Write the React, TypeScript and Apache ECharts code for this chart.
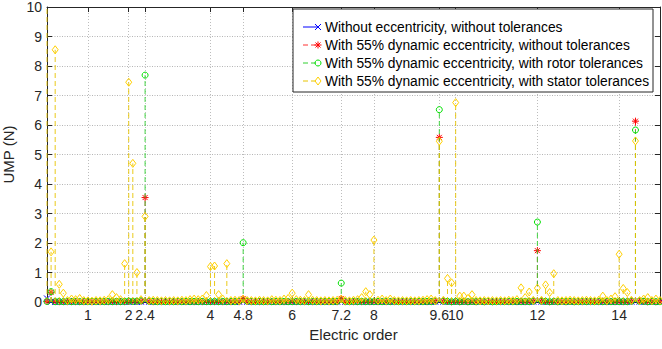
import React, { useEffect, useRef } from "react";
import * as echarts from "echarts";

const ORDERS = [
  0, 0.1, 0.2, 0.3, 0.4, 0.5, 0.6, 0.7, 0.8, 0.9,
  1, 1.1, 1.2, 1.3, 1.4, 1.5, 1.6, 1.7, 1.8, 1.9,
  2, 2.1, 2.2, 2.3, 2.4, 2.5, 2.6, 2.7, 2.8, 2.9,
  3, 3.1, 3.2, 3.3, 3.4, 3.5, 3.6, 3.7, 3.8, 3.9,
  4, 4.1, 4.2, 4.3, 4.4, 4.5, 4.6, 4.7, 4.8, 4.9,
  5, 5.1, 5.2, 5.3, 5.4, 5.5, 5.6, 5.7, 5.8, 5.9,
  6, 6.1, 6.2, 6.3, 6.4, 6.5, 6.6, 6.7, 6.8, 6.9,
  7, 7.1, 7.2, 7.3, 7.4, 7.5, 7.6, 7.7, 7.8, 7.9,
  8, 8.1, 8.2, 8.3, 8.4, 8.5, 8.6, 8.7, 8.8, 8.9,
  9, 9.1, 9.2, 9.3, 9.4, 9.5, 9.6, 9.7, 9.8, 9.9,
  10, 10.1, 10.2, 10.3, 10.4, 10.5, 10.6, 10.7, 10.8, 10.9,
  11, 11.1, 11.2, 11.3, 11.4, 11.5, 11.6, 11.7, 11.8, 11.9,
  12, 12.1, 12.2, 12.3, 12.4, 12.5, 12.6, 12.7, 12.8, 12.9,
  13, 13.1, 13.2, 13.3, 13.4, 13.5, 13.6, 13.7, 13.8, 13.9,
  14, 14.1, 14.2, 14.3, 14.4, 14.5, 14.6, 14.7, 14.8, 14.9,
  15,
];

const BLUE_NO_ECC = [
  0.12, 0.01, 0.0, 0.01, 0.0, 0.01, 0.0, 0.01, 0.0, 0.01,
  0.0, 0.01, 0.0, 0.01, 0.0, 0.01, 0.0, 0.01, 0.0, 0.01,
  0.0, 0.01, 0.0, 0.01, 0.02, 0.01, 0.0, 0.01, 0.0, 0.01,
  0.0, 0.01, 0.0, 0.01, 0.0, 0.01, 0.0, 0.01, 0.0, 0.01,
  0.0, 0.01, 0.0, 0.01, 0.0, 0.01, 0.0, 0.01, 0.02, 0.01,
  0.0, 0.01, 0.0, 0.01, 0.0, 0.01, 0.0, 0.01, 0.0, 0.01,
  0.0, 0.01, 0.0, 0.01, 0.0, 0.01, 0.0, 0.01, 0.0, 0.01,
  0.0, 0.01, 0.02, 0.01, 0.0, 0.01, 0.0, 0.01, 0.0, 0.01,
  0.0, 0.01, 0.0, 0.01, 0.0, 0.01, 0.0, 0.01, 0.0, 0.01,
  0.0, 0.01, 0.0, 0.01, 0.0, 0.01, 0.02, 0.01, 0.0, 0.01,
  0.0, 0.01, 0.0, 0.01, 0.0, 0.01, 0.0, 0.01, 0.0, 0.01,
  0.0, 0.01, 0.0, 0.01, 0.0, 0.01, 0.0, 0.01, 0.0, 0.01,
  0.02, 0.01, 0.0, 0.01, 0.0, 0.01, 0.0, 0.01, 0.0, 0.01,
  0.0, 0.01, 0.0, 0.01, 0.0, 0.01, 0.0, 0.01, 0.0, 0.01,
  0.0, 0.01, 0.0, 0.01, 0.02, 0.01, 0.0, 0.01, 0.0, 0.01,
  0.0,
];

const RED_DYN_ECC = [
  0.02, 0.33, 0.02, 0.01, 0.02, 0.01, 0.02, 0.01, 0.02, 0.01,
  0.02, 0.01, 0.02, 0.01, 0.02, 0.01, 0.02, 0.01, 0.02, 0.01,
  0.02, 0.03, 0.02, 0.03, 3.54, 0.02, 0.01, 0.02, 0.01, 0.02,
  0.01, 0.02, 0.01, 0.02, 0.01, 0.02, 0.01, 0.02, 0.01, 0.02,
  0.02, 0.01, 0.02, 0.01, 0.02, 0.01, 0.02, 0.01, 0.12, 0.02,
  0.01, 0.02, 0.01, 0.02, 0.01, 0.02, 0.01, 0.02, 0.01, 0.02,
  0.02, 0.01, 0.02, 0.01, 0.02, 0.01, 0.02, 0.01, 0.02, 0.01,
  0.02, 0.01, 0.12, 0.01, 0.02, 0.01, 0.02, 0.01, 0.02, 0.01,
  0.02, 0.01, 0.02, 0.01, 0.02, 0.01, 0.02, 0.01, 0.02, 0.01,
  0.02, 0.01, 0.02, 0.01, 0.02, 0.03, 5.58, 0.03, 0.02, 0.01,
  0.02, 0.01, 0.02, 0.01, 0.02, 0.01, 0.02, 0.01, 0.02, 0.01,
  0.02, 0.01, 0.02, 0.01, 0.02, 0.01, 0.02, 0.01, 0.02, 0.03,
  1.74, 0.03, 0.02, 0.01, 0.02, 0.01, 0.02, 0.01, 0.02, 0.01,
  0.02, 0.01, 0.02, 0.01, 0.02, 0.01, 0.02, 0.01, 0.02, 0.01,
  0.02, 0.01, 0.02, 0.03, 6.13, 0.03, 0.02, 0.01, 0.02, 0.01,
  0.02,
];

const GREEN_ROTOR_TOL = [
  0.02, 0.35, 0.01, 0.02, 0.01, 0.02, 0.01, 0.02, 0.01, 0.02,
  0.01, 0.02, 0.01, 0.02, 0.01, 0.02, 0.01, 0.02, 0.01, 0.02,
  0.03, 0.02, 0.03, 0.04, 7.69, 0.03, 0.02, 0.01, 0.02, 0.01,
  0.02, 0.01, 0.02, 0.01, 0.02, 0.01, 0.02, 0.01, 0.02, 0.01,
  0.01, 0.02, 0.01, 0.02, 0.01, 0.02, 0.01, 0.03, 2.01, 0.03,
  0.02, 0.01, 0.02, 0.01, 0.02, 0.01, 0.02, 0.01, 0.02, 0.01,
  0.01, 0.02, 0.01, 0.02, 0.01, 0.02, 0.01, 0.02, 0.01, 0.02,
  0.01, 0.02, 0.64, 0.02, 0.01, 0.02, 0.01, 0.02, 0.01, 0.02,
  0.01, 0.02, 0.01, 0.02, 0.01, 0.02, 0.01, 0.02, 0.01, 0.02,
  0.01, 0.02, 0.01, 0.02, 0.01, 0.03, 6.52, 0.03, 0.02, 0.01,
  0.02, 0.01, 0.02, 0.01, 0.02, 0.01, 0.02, 0.01, 0.02, 0.01,
  0.01, 0.02, 0.01, 0.02, 0.01, 0.02, 0.01, 0.02, 0.01, 0.03,
  2.71, 0.03, 0.02, 0.01, 0.02, 0.01, 0.02, 0.01, 0.02, 0.01,
  0.01, 0.02, 0.01, 0.02, 0.01, 0.02, 0.01, 0.02, 0.01, 0.02,
  0.01, 0.02, 0.01, 0.03, 5.83, 0.03, 0.02, 0.01, 0.02, 0.01,
  0.01,
];

const YELLOW_STATOR_TOL = [
  10.5, 1.7, 8.55, 0.6, 0.3, 0.05, 0.1, 0.08, 0.12, 0.05,
  0.04, 0.03, 0.05, 0.04, 0.06, 0.08, 0.25, 0.15, 0.08, 1.3,
  7.45, 4.7, 1.0, 0.08, 2.9, 0.05, 0.06, 0.05, 0.04, 0.05,
  0.04, 0.05, 0.04, 0.06, 0.05, 0.08, 0.1, 0.08, 0.1, 0.22,
  1.2, 1.22, 0.25, 0.1, 1.3, 0.05, 0.06, 0.05, 0.1, 0.05,
  0.05, 0.04, 0.06, 0.05, 0.04, 0.08, 0.06, 0.05, 0.1, 0.12,
  0.3, 0.08, 0.06, 0.05, 0.25, 0.06, 0.05, 0.04, 0.05, 0.04,
  0.05, 0.06, 0.1, 0.05, 0.04, 0.06, 0.08, 0.15, 0.35, 0.25,
  2.1, 0.06, 0.1, 0.05, 0.1, 0.05, 0.04, 0.05, 0.04, 0.05,
  0.04, 0.05, 0.06, 0.08, 0.1, 0.05, 5.45, 0.06, 0.8, 0.65,
  6.76, 0.2, 0.2, 0.12, 0.25, 0.05, 0.04, 0.05, 0.04, 0.05,
  0.04, 0.05, 0.04, 0.06, 0.05, 0.08, 0.48, 0.15, 0.34, 0.06,
  0.47, 0.06, 0.58, 0.32, 0.96, 0.05, 0.04, 0.05, 0.06, 0.05,
  0.04, 0.05, 0.06, 0.05, 0.04, 0.06, 0.2, 0.05, 0.1, 0.18,
  1.62, 0.46, 0.32, 0.06, 5.46, 0.05, 0.1, 0.15, 0.05, 0.1,
  0.05,
];

const X_TICKS = [1, 2, 2.4, 4, 4.8, 6, 7.2, 8, 9.6, 10, 12, 14];
const X_MIN = 0;
const X_MAX = 15;
const Y_MIN = 0;
const Y_MAX = 10;

const LEGEND_LABELS = [
  "Without eccentricity, without tolerances",
  "With 55% dynamic eccentricity, without tolerances",
  "With 55% dynamic eccentricity, with rotor tolerances",
  "With 55% dynamic eccentricity, with stator tolerances",
];

const FONT = "'Liberation Sans', Arial, Helvetica, sans-serif";
const AXIS_COLOR = "#262626";

type MarkerKind = "x" | "star" | "circle" | "diamond";

function markerShapes(kind: MarkerKind, cx: number, cy: number, color: string): any[] {
  const lw = 1;
  if (kind === "x") {
    const r = 3;
    return [
      { type: "line", shape: { x1: cx - r, y1: cy - r, x2: cx + r, y2: cy + r }, style: { stroke: color, lineWidth: lw } },
      { type: "line", shape: { x1: cx - r, y1: cy + r, x2: cx + r, y2: cy - r }, style: { stroke: color, lineWidth: lw } },
    ];
  }
  if (kind === "star") {
    const r = 3.5;
    const d = 2.5;
    return [
      { type: "line", shape: { x1: cx, y1: cy - r, x2: cx, y2: cy + r }, style: { stroke: color, lineWidth: lw } },
      { type: "line", shape: { x1: cx - r, y1: cy, x2: cx + r, y2: cy }, style: { stroke: color, lineWidth: lw } },
      { type: "line", shape: { x1: cx - d, y1: cy - d, x2: cx + d, y2: cy + d }, style: { stroke: color, lineWidth: lw } },
      { type: "line", shape: { x1: cx - d, y1: cy + d, x2: cx + d, y2: cy - d }, style: { stroke: color, lineWidth: lw } },
    ];
  }
  if (kind === "circle") {
    return [{ type: "circle", shape: { cx, cy, r: 3 }, style: { fill: "none", stroke: color, lineWidth: lw } }];
  }
  return [
    {
      type: "polygon",
      shape: { points: [[cx, cy - 4], [cx + 3, cy], [cx, cy + 4], [cx - 3, cy]] },
      style: { fill: "none", stroke: color, lineWidth: lw },
    },
  ];
}

interface StemDef {
  name: string;
  values: number[];
  color: string;
  stemColor: string;
  dash: number[] | null;
  marker: MarkerKind;
}

const STEMS: StemDef[] = [
  { name: LEGEND_LABELS[0], values: BLUE_NO_ECC, color: "#0000ff", stemColor: "#0000ff", dash: null, marker: "x" },
  { name: LEGEND_LABELS[1], values: RED_DYN_ECC, color: "#ff0000", stemColor: "#ff3030", dash: [5, 3], marker: "star" },
  { name: LEGEND_LABELS[2], values: GREEN_ROTOR_TOL, color: "#00e000", stemColor: "#30d030", dash: [5, 3], marker: "circle" },
  { name: LEGEND_LABELS[3], values: YELLOW_STATOR_TOL, color: "#ffd000", stemColor: "#e8c400", dash: [5, 3], marker: "diamond" },
];

function makeSeries(def: StemDef): any {
  return {
    type: "custom",
    name: def.name,
    xAxisIndex: 0,
    yAxisIndex: 0,
    encode: { x: 0, y: 1 },
    data: ORDERS.map((o, i) => [o, def.values[i]]),
    renderItem: (_params: any, api: any) => {
      const x = api.value(0);
      const v = api.value(1);
      const base = api.coord([x, 0]);
      const top = api.coord([x, Math.min(v, Y_MAX)]);
      const children: any[] = [
        {
          type: "line",
          shape: { x1: base[0], y1: base[1], x2: top[0], y2: top[1] },
          style: { stroke: def.stemColor, lineWidth: 0.9, lineDash: def.dash || undefined },
        },
      ];
      if (v <= Y_MAX) children.push(...markerShapes(def.marker, top[0], top[1], def.color));
      return { type: "group", children };
    },
  };
}

function legendGraphic(): any[] {
  const boxX = 293;
  const boxY = 9;
  const boxW = 360;
  const boxH = 83;
  const rowY = [27, 45, 63, 81];
  const els: any[] = [
    { type: "rect", z: 100, shape: { x: boxX, y: boxY, width: boxW, height: boxH }, style: { fill: "#ffffff", stroke: AXIS_COLOR, lineWidth: 1 } },
  ];
  STEMS.forEach((s, i) => {
    const y = rowY[i];
    els.push({
      type: "line",
      z: 101,
      shape: { x1: 303, y1: y, x2: 317, y2: y },
      style: { stroke: s.stemColor, lineWidth: 1, lineDash: s.dash || undefined },
    });
    markerShapes(s.marker, 318, y, s.color).forEach((m) => els.push({ ...m, z: 101 }));
    els.push({
      type: "text",
      z: 101,
      x: 325,
      y,
      style: { text: s.name, fontSize: 13.8, fontFamily: FONT, fill: "#000000", verticalAlign: "middle", align: "left" },
    });
  });
  return els;
}

const axisLineStyle = { show: true, onZero: false, lineStyle: { color: AXIS_COLOR, width: 1 } };

export default function App() {
  const ref = useRef<HTMLDivElement>(null);
  useEffect(() => {
    if (!ref.current) return;
    const chart = echarts.init(ref.current, undefined, { renderer: "svg" });
    chart.setOption({
      animation: false,
      backgroundColor: "#ffffff",
      grid: { left: 47, right: 2, top: 7, bottom: 47, containLabel: false, outerBoundsMode: "none" },
      xAxis: [
        {
          type: "value",
          position: "bottom",
          min: X_MIN,
          max: X_MAX,
          name: "Electric order",
          nameLocation: "middle",
          nameGap: 22,
          nameTextStyle: { fontSize: 15, color: AXIS_COLOR, fontFamily: FONT },
          axisLine: axisLineStyle,
          axisTick: { show: true, inside: true, length: 5, customValues: X_TICKS, lineStyle: { color: AXIS_COLOR } },
          axisLabel: {
            customValues: X_TICKS,
            fontSize: 14,
            color: AXIS_COLOR,
            fontFamily: FONT,
            margin: 6,
            formatter: (v: number) => String(v),
          },
          splitLine: { show: true, lineStyle: { color: "#bdbdbd", type: [1, 2], width: 1 } },
        },
        {
          type: "value",
          position: "top",
          min: X_MIN,
          max: X_MAX,
          axisLine: axisLineStyle,
          axisTick: { show: true, inside: true, length: 5, customValues: X_TICKS, lineStyle: { color: AXIS_COLOR } },
          axisLabel: { show: false, customValues: X_TICKS },
          splitLine: { show: false },
        },
      ],
      yAxis: [
        {
          type: "value",
          position: "left",
          min: Y_MIN,
          max: Y_MAX,
          interval: 1,
          name: "UMP (N)",
          nameLocation: "middle",
          nameGap: 25,
          nameTextStyle: { fontSize: 15, color: AXIS_COLOR, fontFamily: FONT },
          axisLine: axisLineStyle,
          axisTick: { show: true, inside: true, length: 5, lineStyle: { color: AXIS_COLOR } },
          axisLabel: { fontSize: 14, color: AXIS_COLOR, fontFamily: FONT, margin: 5 },
          splitLine: { show: true, lineStyle: { color: "#b5b5b5", type: [1, 1.5], width: 1 } },
        },
        {
          type: "value",
          position: "right",
          min: Y_MIN,
          max: Y_MAX,
          interval: 1,
          axisLine: axisLineStyle,
          axisTick: { show: true, inside: true, length: 5, lineStyle: { color: AXIS_COLOR } },
          axisLabel: { show: false },
          splitLine: { show: false },
        },
      ],
      series: STEMS.map(makeSeries),
      graphic: legendGraphic(),
    });
    return () => chart.dispose();
  }, []);
  return (
    <div
      ref={ref}
      style={{ position: "fixed", left: 0, top: 0, width: 662, height: 349, background: "#ffffff" }}
    />
  );
}
